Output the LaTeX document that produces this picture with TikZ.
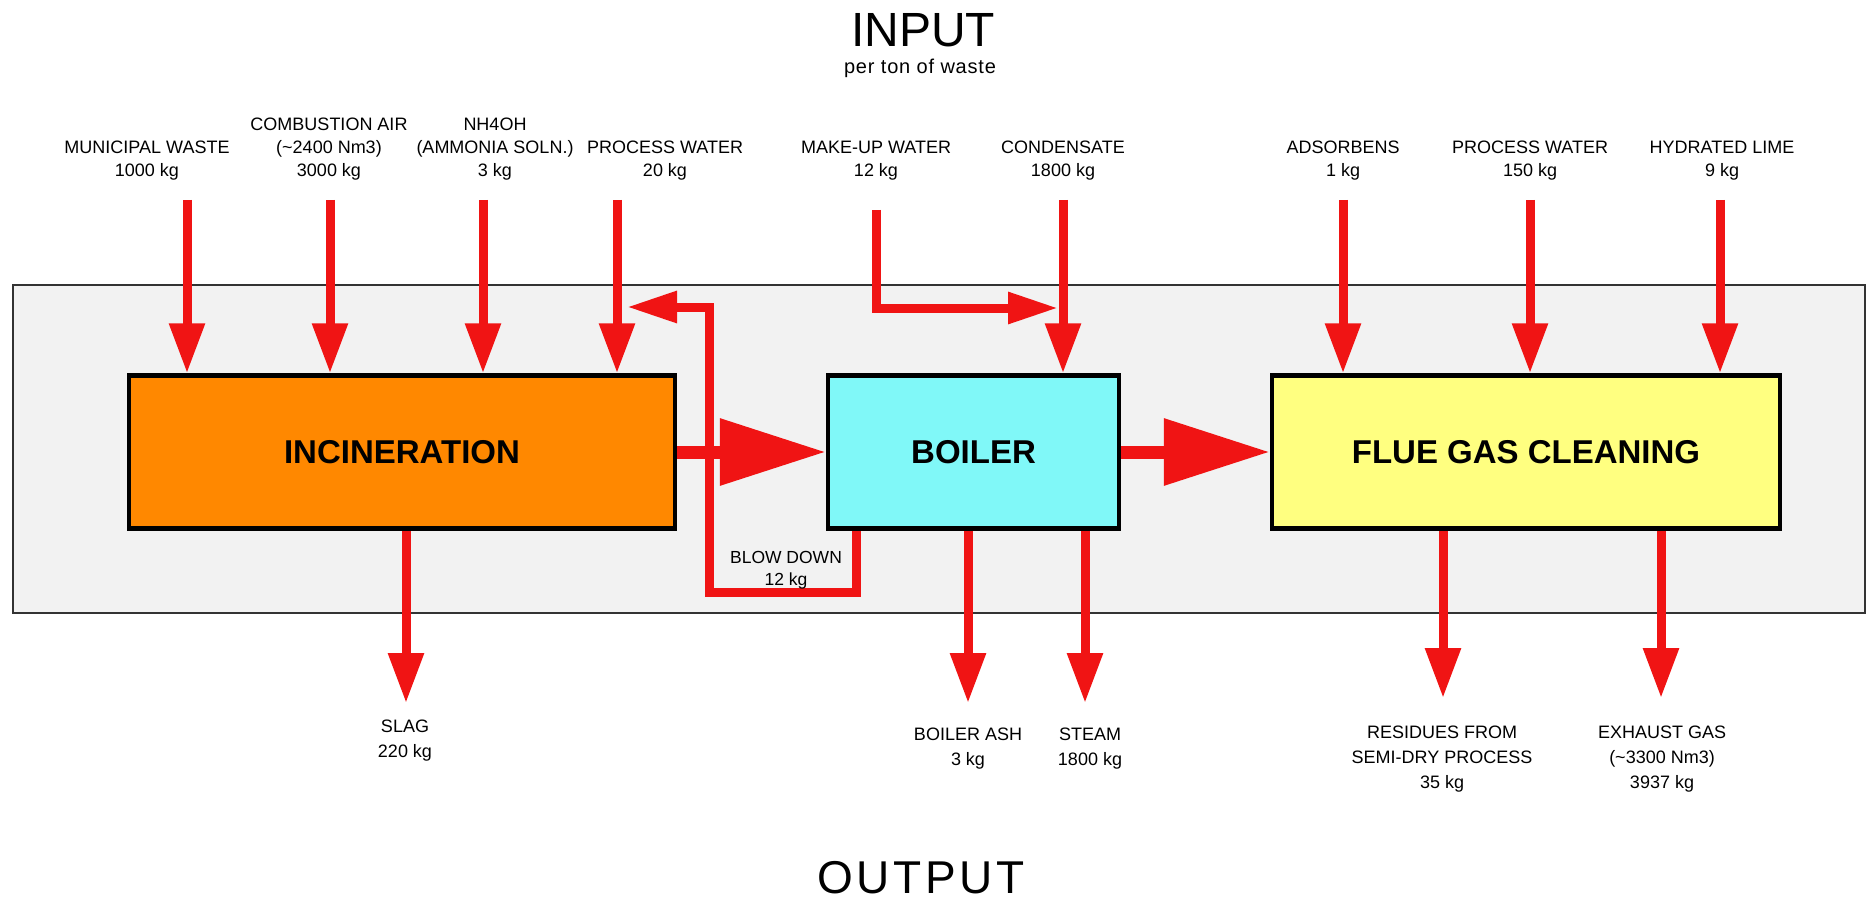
\documentclass[tikz,border=0pt]{standalone}
\usepackage{fontspec}
\setmainfont{Liberation Sans}
\usetikzlibrary{arrows.meta,calc}
\definecolor{flowred}{RGB}{240,20,20}
\definecolor{incinc}{RGB}{255,136,0}
\definecolor{boilerc}{RGB}{128,248,248}
\definecolor{fgcc}{RGB}{255,255,128}
\definecolor{panelc}{RGB}{242,242,242}
\begin{document}
\begin{tikzpicture}[x=1pt,y=-1pt,
  proc/.style={draw=black, line width=4.5pt, minimum width=#1, minimum height=153pt, inner sep=0pt, font=\fontsize{33}{38}\selectfont\bfseries},
  flow/.style={draw=flowred, line width=9pt, -{Triangle[length=50pt,width=34pt]}},
  thinflow/.style={draw=flowred, line width=9pt, -{Triangle[length=50pt,width=30pt]}},
  bigflow/.style={draw=flowred, line width=13pt, -{Triangle[length=106pt,width=64pt]}},
  inlbl/.style={anchor=south, inner sep=0pt, align=center, font=\fontsize{18}{23}\selectfont},
  outlbl/.style={anchor=north, inner sep=0pt, align=center, font=\fontsize{18}{25}\selectfont},
  title/.style={anchor=base, inner sep=0pt, font=\fontsize{48}{50}\selectfont},
]
\useasboundingbox (0,0) rectangle (1867,901);
\fill[white] (0,0) rectangle (1867,901);
\node[draw=black!80, line width=1.5pt, fill=panelc, minimum width=1852pt, minimum height=328pt, anchor=north west, inner sep=0pt] (panel) at (12,284) {};

% titles
\node[title] (inp) at (923,47) {INPUT};
\node[anchor=base, inner sep=0pt, font=\fontsize{20}{21}\selectfont\addfontfeatures{LetterSpace=4}] (perton) at (920,74) {per ton of waste};
\node[title, font=\fontsize{46}{50}\selectfont\addfontfeatures{LetterSpace=8}] (outp) at (921,893) {OUTPUT};

% process boxes
\node[proc=546pt, fill=incinc] (inc) at (402,452) {INCINERATION};
\node[proc=291pt, fill=boilerc] (boil) at (973.5,452) {BOILER};
\node[proc=508pt, fill=fgcc] (fgc) at (1526,452) {FLUE GAS CLEANING};

% main flows
\draw[bigflow] (inc.east) -- (boil.west);
\draw[bigflow] (boil.east) -- (fgc.west);

% input start points
\coordinate (mw) at (187,200);
\coordinate (ca) at (330,200);
\coordinate (nh) at (483,200);
\coordinate (pw) at (617,200);
\coordinate (cond) at (1063,200);
\coordinate (ads) at (1343,200);
\coordinate (pwb) at (1530,200);
\coordinate (lime) at (1720,200);
\coordinate (mu) at (876,210);
\coordinate (mubend) at (876,308);
\coordinate (mutip) at (1058,308);

\draw[flow] (mw) -- (inc.north -| mw);
\draw[flow] (ca) -- (inc.north -| ca);
\draw[flow] (nh) -- (inc.north -| nh);
\draw[flow] (pw) -- (inc.north -| pw);
\draw[flow] (cond) -- (boil.north -| cond);
\draw[flow] (ads) -- (fgc.north -| ads);
\draw[flow] (pwb) -- (fgc.north -| pwb);
\draw[flow] (lime) -- (fgc.north -| lime);
\draw[thinflow] (mu) -- (mubend) -- (mutip);

% blow down
\coordinate (bd1) at (856,592);
\coordinate (bd2) at (709,592);
\coordinate (bd3) at (709,307);
\coordinate (bdtip) at (627,307);
\draw[thinflow] (boil.south -| bd1) -- (bd1) -- (bd2) -- (bd3) -- (bdtip);
\node[outlbl, font=\fontsize{17.5}{22}\selectfont] (bdl) at (786,551) {BLOW DOWN\\12 kg};

% outputs
\coordinate (slag) at (406,703);
\coordinate (ash) at (968,703);
\coordinate (steam) at (1085,703);
\coordinate (res) at (1443,698);
\coordinate (exh) at (1661,698);
\draw[flow] (inc.south -| slag) -- (slag);
\draw[flow] (boil.south -| ash) -- (ash);
\draw[flow] (boil.south -| steam) -- (steam);
\draw[flow] (fgc.south -| res) -- (res);
\draw[flow] (fgc.south -| exh) -- (exh);

% input labels
\node[inlbl] (lmw) at (147,180) {MUNICIPAL WASTE\\1000 kg};
\node[inlbl] (lca) at (329,180) {COMBUSTION AIR\\(\textasciitilde2400 Nm3)\\3000 kg};
\node[inlbl] (lnh) at (495,180) {NH4OH\\(AMMONIA SOLN.)\\3 kg};
\node[inlbl] (lpw) at (665,180) {PROCESS WATER\\20 kg};
\node[inlbl] (lmu) at (876,180) {MAKE-UP WATER\\12 kg};
\node[inlbl] (lcond) at (1063,180) {CONDENSATE\\1800 kg};
\node[inlbl] (lads) at (1343,180) {ADSORBENS\\1 kg};
\node[inlbl] (lpwb) at (1530,180) {PROCESS WATER\\150 kg};
\node[inlbl] (llime) at (1722,180) {HYDRATED LIME\\9 kg};

% output labels
\node[outlbl] (lslag) at (405,720) {SLAG\\220 kg};
\node[outlbl] (lash) at (968,728) {BOILER ASH\\3 kg};
\node[outlbl] (lsteam) at (1090,728) {STEAM\\1800 kg};
\node[outlbl] (lres) at (1442,726) {RESIDUES FROM\\SEMI-DRY PROCESS\\35 kg};
\node[outlbl] (lexh) at (1662,726) {EXHAUST GAS\\(\textasciitilde3300 Nm3)\\3937 kg};
\end{tikzpicture}
\end{document}
